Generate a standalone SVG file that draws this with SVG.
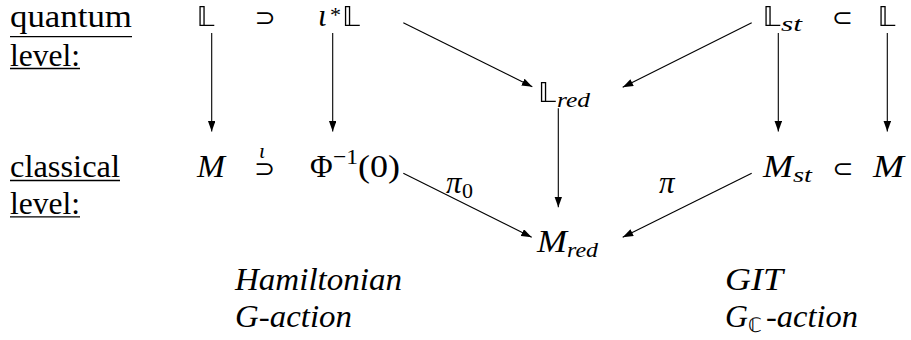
<svg xmlns="http://www.w3.org/2000/svg" width="911" height="340" viewBox="0 0 911 340">
<style>
  .ul { stroke: #000; stroke-width: 1.3; }
  .conn line { stroke: #000; stroke-width: 1.1; marker-end: url(#ah); }
</style>
<defs>
  <marker id="ah" markerUnits="userSpaceOnUse" markerWidth="11" markerHeight="8" refX="10.5" refY="3.75" orient="auto">
    <path d="M0,0 L10.5,3.75 L0,7.5 Z" fill="#000"/>
  </marker>
  <filter id="blk"><feColorMatrix type="matrix" values="0 0 0 0 0  0 0 0 0 0  0 0 0 0 0  0 0 0 1 0"/></filter>
</defs>

<g id="labels-left">
  <text font-family="Liberation Serif" font-size="31" x="10" y="26.7" textLength="122" lengthAdjust="spacingAndGlyphs">quantum</text>
  <line class="ul" x1="10" y1="36.7" x2="132" y2="36.7"/>
  <text font-family="Liberation Serif" font-size="31" x="10" y="65.5" textLength="70" lengthAdjust="spacingAndGlyphs">level:</text>
  <line class="ul" x1="10" y1="68.5" x2="80" y2="68.5"/>
  <text font-family="Liberation Serif" font-size="31" x="10" y="176.7" textLength="110" lengthAdjust="spacingAndGlyphs">classical</text>
  <line class="ul" x1="10" y1="180.5" x2="120" y2="180.5"/>
  <text font-family="Liberation Serif" font-size="31" x="10" y="213.5" textLength="70" lengthAdjust="spacingAndGlyphs">level:</text>
  <line class="ul" x1="10" y1="216.8" x2="80" y2="216.8"/>
</g>

<g id="node-L1"><text font-family="DejaVu Sans" font-size="27" filter="url(#blk)" x="205.5" y="26" text-anchor="middle">𝕃</text></g>
<g id="rel-supset1"><text font-family="DejaVu Sans" font-size="25" x="265" y="26" text-anchor="middle">⊃</text></g>
<g id="node-iotaL">
  <text font-family="Liberation Serif" font-size="31" font-style="italic" x="318" y="26">ι</text>
  <text font-family="Liberation Serif" font-size="22" x="330" y="22">*</text>
  <text font-family="DejaVu Sans" font-size="27" filter="url(#blk)" x="351" y="26" text-anchor="middle">𝕃</text>
</g>
<g id="node-Lred">
  <text font-family="DejaVu Sans" font-size="27" filter="url(#blk)" x="547" y="101.7" text-anchor="middle">𝕃</text>
  <text font-family="Liberation Serif" font-size="22" font-style="italic" x="557" y="107" textLength="33" lengthAdjust="spacingAndGlyphs">red</text>
</g>
<g id="node-Lst">
  <text font-family="DejaVu Sans" font-size="27" filter="url(#blk)" x="771.5" y="26" text-anchor="middle">𝕃</text>
  <text font-family="Liberation Serif" font-size="22" font-style="italic" x="781" y="31" textLength="21" lengthAdjust="spacingAndGlyphs">st</text>
</g>
<g id="rel-subset1"><text font-family="DejaVu Sans" font-size="25" x="842.5" y="26" text-anchor="middle">⊂</text></g>
<g id="node-L2"><text font-family="DejaVu Sans" font-size="27" filter="url(#blk)" x="886.5" y="26" text-anchor="middle">𝕃</text></g>

<g id="node-M1"><text font-family="Liberation Serif" font-size="31" font-style="italic" x="197" y="176.7" textLength="28" lengthAdjust="spacingAndGlyphs">M</text></g>
<g id="rel-iota-supset">
  <text font-family="DejaVu Sans" font-size="25" x="264.5" y="176.5" text-anchor="middle">⊃</text>
  <text font-family="Liberation Serif" font-size="22" font-style="italic" x="262" y="158" text-anchor="middle">ι</text>
</g>
<g id="node-Phi">
  <text font-family="Liberation Serif" font-size="31" x="310" y="176.7">Φ</text>
  <text font-family="Liberation Serif" font-size="22" x="333" y="164" textLength="25" lengthAdjust="spacingAndGlyphs">−1</text>
  <text font-family="Liberation Serif" font-size="31" x="358" y="176.7" textLength="42" lengthAdjust="spacingAndGlyphs">(0)</text>
</g>
<g id="node-Mst">
  <text font-family="Liberation Serif" font-size="31" font-style="italic" x="763" y="176.7" textLength="30" lengthAdjust="spacingAndGlyphs">M</text>
  <text font-family="Liberation Serif" font-size="22" font-style="italic" x="793" y="182" textLength="19" lengthAdjust="spacingAndGlyphs">st</text>
</g>
<g id="rel-subset2"><text font-family="DejaVu Sans" font-size="25" x="843" y="176.5" text-anchor="middle">⊂</text></g>
<g id="node-M2"><text font-family="Liberation Serif" font-size="31" font-style="italic" x="873" y="176.7" textLength="31" lengthAdjust="spacingAndGlyphs">M</text></g>

<g id="node-Mred">
  <text font-family="Liberation Serif" font-size="31" font-style="italic" x="537" y="251.7" textLength="30" lengthAdjust="spacingAndGlyphs">M</text>
  <text font-family="Liberation Serif" font-size="22" font-style="italic" x="567" y="256.5" textLength="31" lengthAdjust="spacingAndGlyphs">red</text>
</g>

<g id="connectors" class="conn">
  <line x1="211.7" y1="33" x2="211.7" y2="131.5"/>
  <line x1="332.7" y1="33" x2="332.7" y2="131.5"/>
  <line x1="403.3" y1="22.7" x2="532.3" y2="86.7"/>
  <line x1="751.7" y1="22.7" x2="622.7" y2="87.3"/>
  <line x1="778.3" y1="33" x2="778.3" y2="131.5"/>
  <line x1="887.3" y1="33" x2="887.3" y2="131.5"/>
  <line x1="558.3" y1="108.3" x2="558.3" y2="207.3"/>
  <line x1="403.3" y1="173.3" x2="531.7" y2="237.3"/>
  <line x1="751.7" y1="173.3" x2="622.7" y2="237.3"/>
</g>

<g id="edge-labels">
  <text font-family="Liberation Serif" font-size="31" font-style="italic" x="446" y="193">π</text>
  <text font-family="Liberation Serif" font-size="22" x="462" y="197.5">0</text>
  <text font-family="Liberation Serif" font-size="31" font-style="italic" x="659" y="193">π</text>
</g>

<g id="captions">
  <text font-family="Liberation Serif" font-size="31" font-style="italic" x="235" y="289.5" textLength="167" lengthAdjust="spacingAndGlyphs">Hamiltonian</text>
  <text font-family="Liberation Serif" font-size="31" font-style="italic" x="235" y="327" textLength="117" lengthAdjust="spacingAndGlyphs">G-action</text>
  <text font-family="Liberation Serif" font-size="31" font-style="italic" x="725" y="289.5" textLength="58" lengthAdjust="spacingAndGlyphs">GIT</text>
  <text font-family="Liberation Serif" font-size="31" font-style="italic" x="725" y="327" textLength="23" lengthAdjust="spacingAndGlyphs">G</text>
  <text font-family="DejaVu Sans" font-size="20" x="748" y="332">ℂ</text>
  <text font-family="Liberation Serif" font-size="31" font-style="italic" x="766" y="327" textLength="92" lengthAdjust="spacingAndGlyphs">-action</text>
</g>
</svg>
